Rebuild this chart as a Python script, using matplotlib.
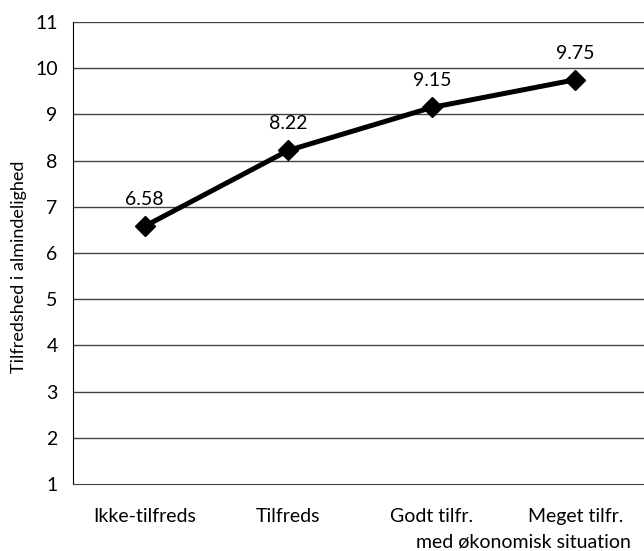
import matplotlib.pyplot as plt

plt.rcParams['font.family'] = ['Lato', 'DejaVu Sans']

# data
categories = ['Ikke-tilfreds', 'Tilfreds', 'Godt tilfr.', 'Meget tilfr.']
values = [6.58, 8.22, 9.15, 9.75]
yticks = list(range(1, 12))

fig = plt.figure(figsize=(6.44, 5.51), dpi=100)
ax = fig.add_axes([73 / 644, 1 - 484 / 551, 574 / 644, (484 - 22) / 551])

for t in yticks[1:]:
    ax.axhline(t, color='#444444', lw=1, zorder=1)

x = list(range(len(categories)))
ax.plot(x, values, color='black', lw=3.6, marker='D', markersize=10, zorder=3, clip_on=False)
for xi, v in zip(x, values):
    ax.annotate(f'{v:.2f}', (xi, v), xytext=(0, 13), textcoords='offset points',
                ha='center', va='bottom', fontsize=14)

ax.set_xlim(-0.5, 3.5)
ax.set_ylim(1, 11)
ax.set_yticks(yticks)
ax.set_xticks(x)
ax.set_xticklabels(categories, fontsize=14)
ax.tick_params(axis='y', labelsize=14, length=0, pad=11)
ax.tick_params(axis='x', length=0, pad=17)

for s in ['top', 'right']:
    ax.spines[s].set_visible(False)
ax.spines['left'].set_color('black')
ax.spines['bottom'].set_color('#444444')

ax.set_ylabel('Tilfredshed i almindelighed', fontsize=13)
ax.yaxis.set_label_coords(-0.08, 0.47)
ax.set_xlabel('med økonomisk situation', fontsize=14)
ax.xaxis.set_label_coords(0.785, -0.108)

fig.savefig('out.png', dpi=100)
